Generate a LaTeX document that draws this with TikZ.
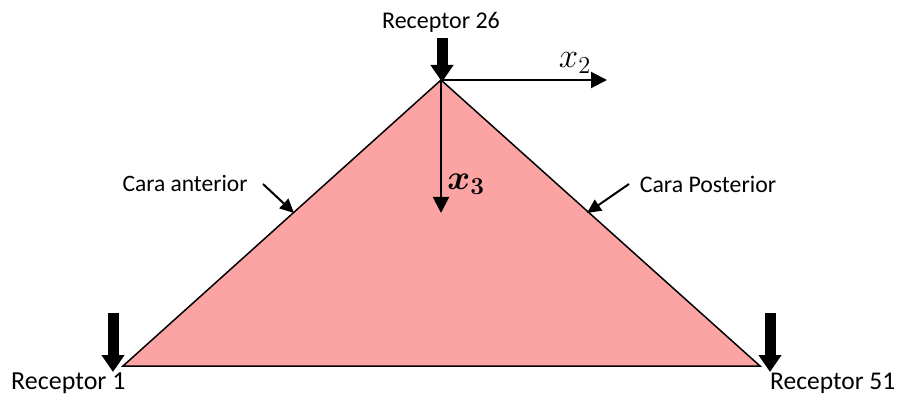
\documentclass[tikz,border=0pt]{standalone}
\usepackage{fix-cm}
\usepackage{amsmath}
\usepackage{fontspec}
\setmainfont{Carlito}
\usetikzlibrary{arrows.meta}
\definecolor{tri}{RGB}{252,164,164}
\begin{document}
\begin{tikzpicture}[x=1pt,y=-1pt,
  lbl/.style={inner sep=0pt,font=\fontsize{24}{27}\selectfont},
  mathlbl/.style={inner sep=0pt,font=\fontsize{24}{27}\selectfont},
  axis/.style={line width=2pt,-{Triangle[width=16pt,length=16pt]}},
  pointer/.style={line width=2pt,-{Triangle[width=13pt,length=14pt]}},
  bigarrow/.style={line width=11pt,-{Triangle[width=22pt,length=17pt]}}]
\useasboundingbox (0,0) rectangle (903,398);
\coordinate (A) at (441,80);
\coordinate (L) at (123,366);
\coordinate (R) at (760,366);
\filldraw[fill=tri,draw=black,line width=1.5pt,line join=miter] (L) -- (A) -- (R) -- cycle;
% axes
\coordinate (X2) at (607,80);
\coordinate (X3) at (441,213);
\draw[axis] (A) -- (X2);
\draw[axis] (A) -- (X3);
\node[mathlbl] (x2) at (575,63) {\scalebox{1.45}{$x_2$}};
\node[mathlbl] (x3) at (466,184) {\scalebox{1.45}{$\boldsymbol{x_3}$}};
% receptor arrows
\coordinate (r26s) at (442,38);
\coordinate (r26e) at (442,82);
\draw[bigarrow] (r26s) -- (r26e);
\coordinate (r1s) at (113,313);
\coordinate (r1e) at (113,372);
\draw[bigarrow] (r1s) -- (r1e);
\coordinate (r51s) at (770,313);
\coordinate (r51e) at (770,372);
\draw[bigarrow] (r51s) -- (r51e);
% labels
\node[lbl,anchor=base] (t26) at (441,29) {Receptor 26};
\node[lbl,anchor=base west,font=\fontsize{26}{29}\selectfont] (t1) at (11,389) {Receptor 1};
\node[lbl,anchor=base west,font=\fontsize{25.5}{28}\selectfont] (t51) at (770,389) {Receptor 51};
\node[lbl,font=\fontsize{23.5}{26}\selectfont] (ca) at (185,184) {Cara anterior};
\node[lbl,font=\fontsize{23.8}{26}\selectfont] (cp) at (708,184) {Cara Posterior};
\coordinate (caS) at (263,184);
\coordinate (caE) at (294,213);
\draw[pointer] (caS) -- (caE);
\coordinate (cpS) at (629,184);
\coordinate (cpE) at (587,213);
\draw[pointer] (cpS) -- (cpE);
\end{tikzpicture}
\end{document}
